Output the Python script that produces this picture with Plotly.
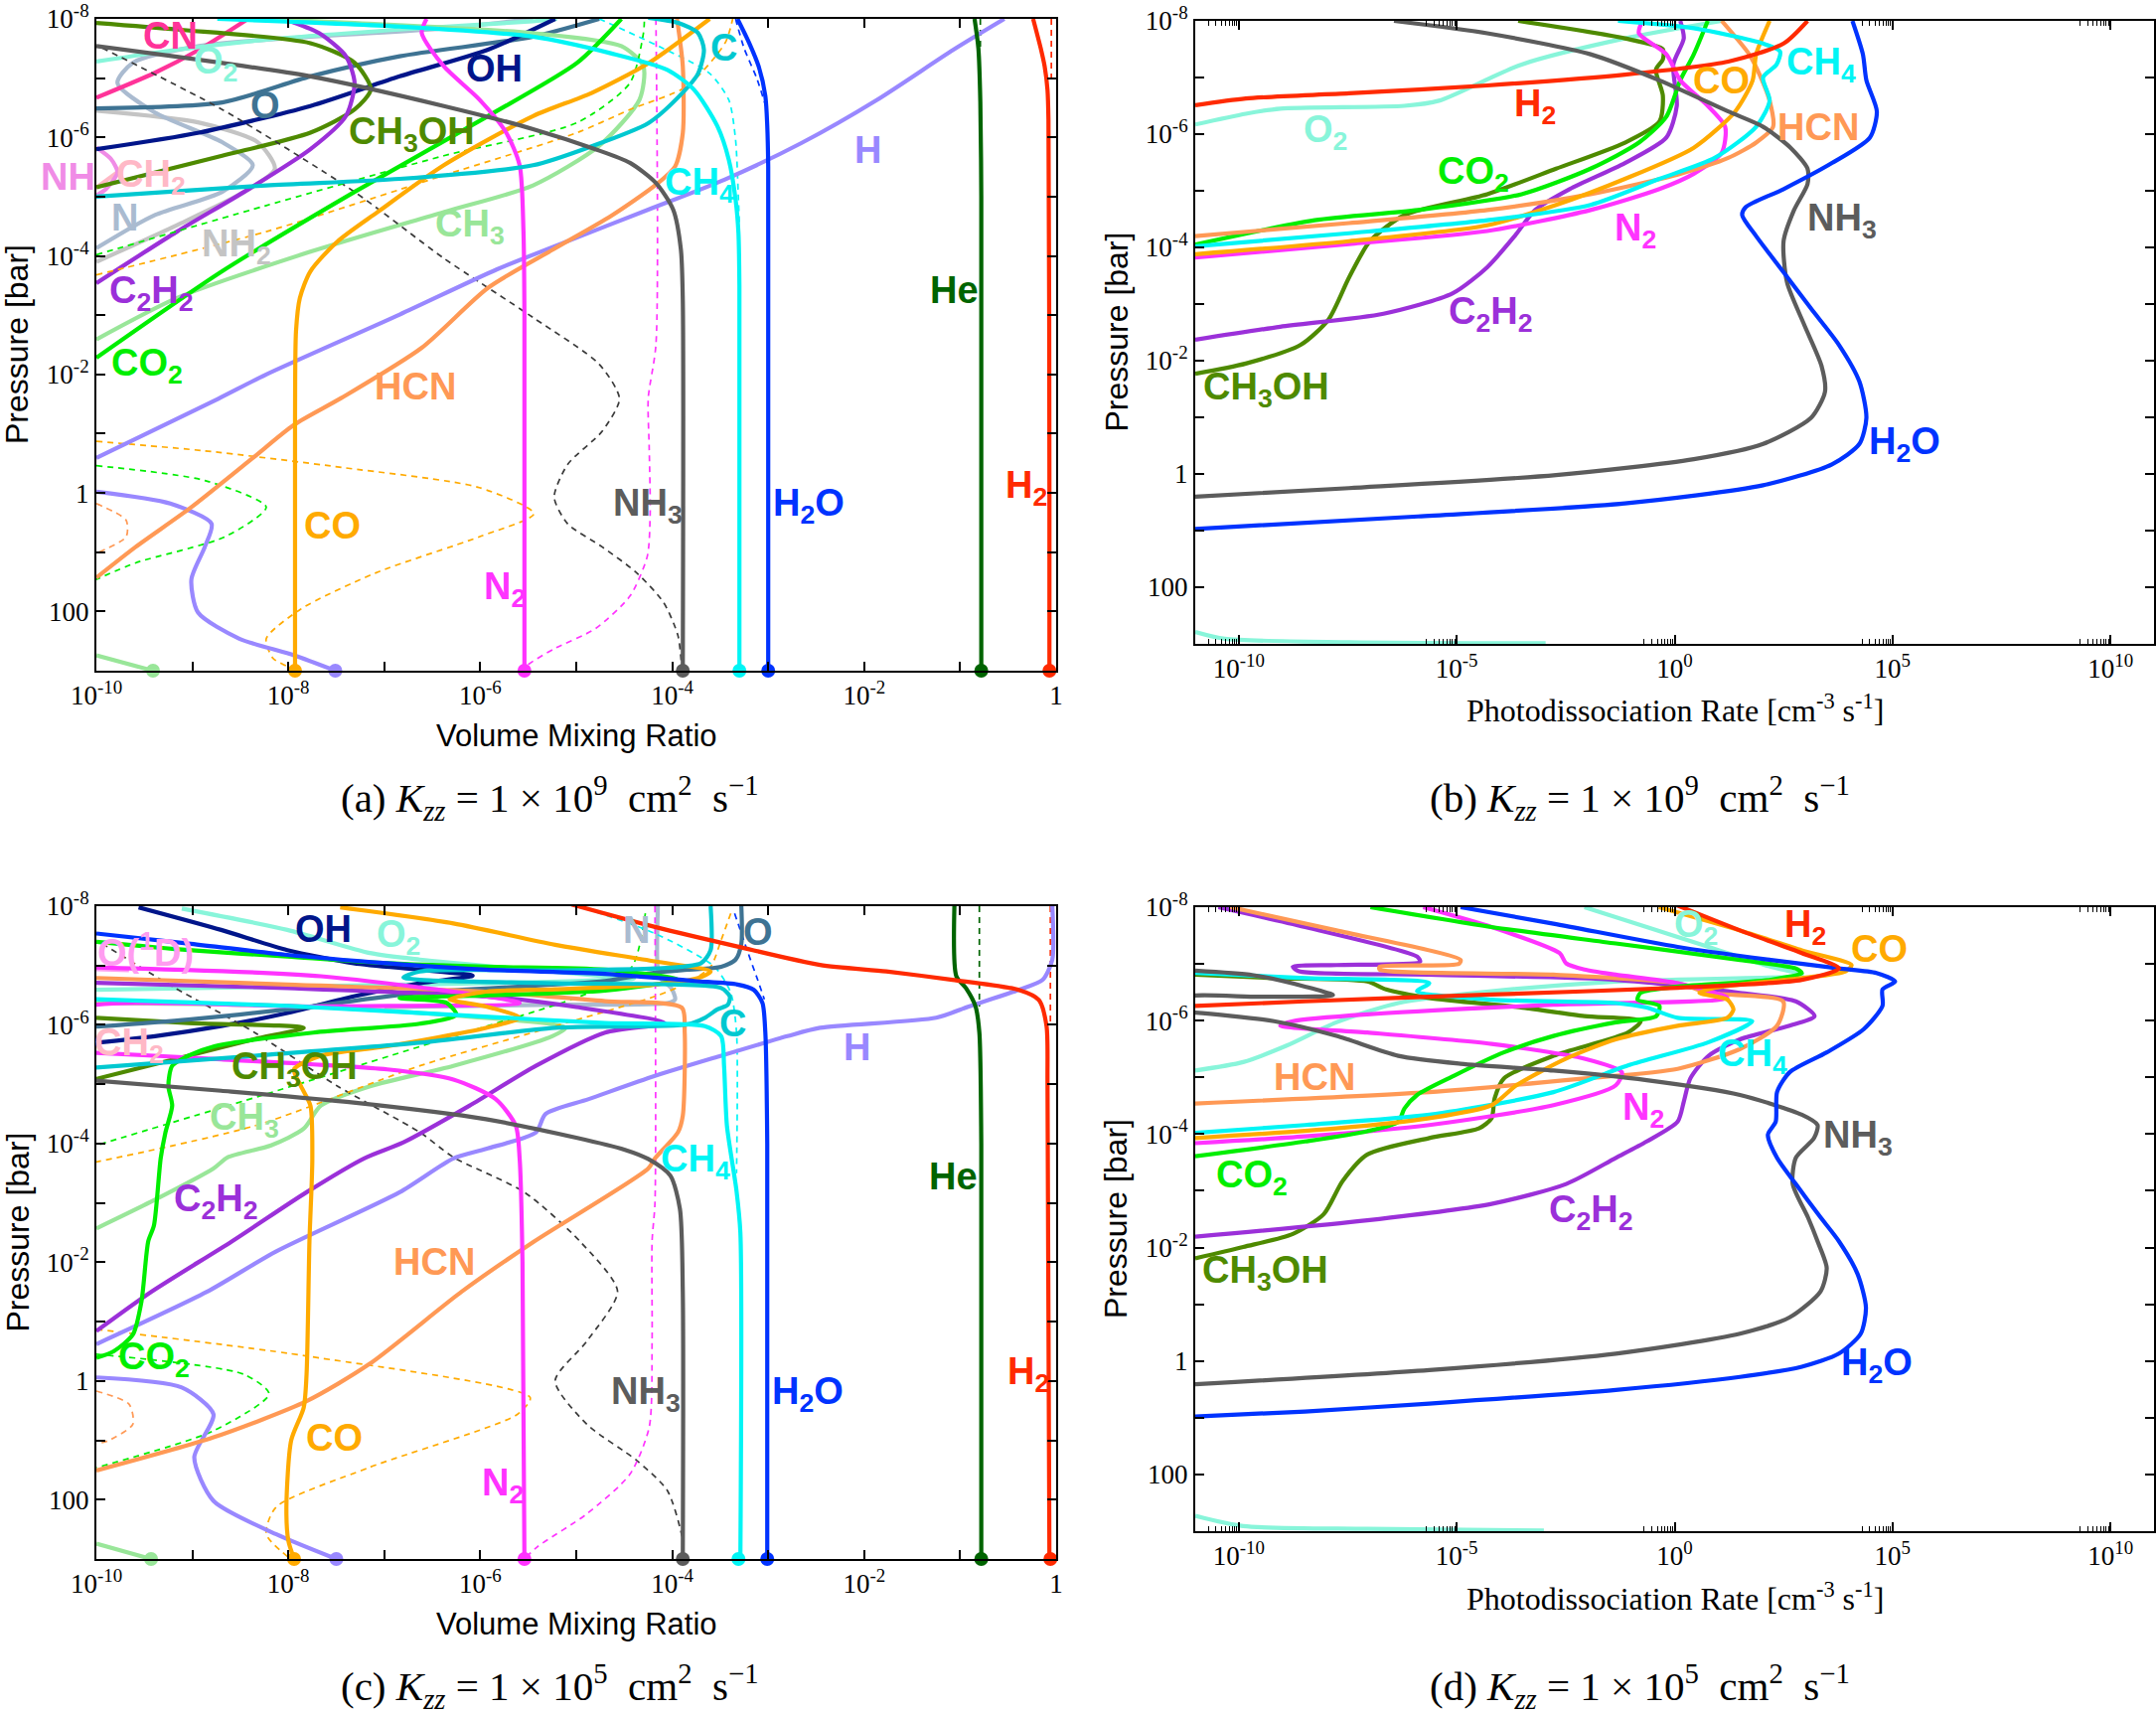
import plotly.graph_objects as go

# ------------------------------------------------------------------
# Data: each curve is a list of (log10 value, log10 pressure [bar])
# ------------------------------------------------------------------
# Panel (a) : volume mixing ratio, Kzz = 1e9
A_H2 = [(-0.24,-8),(-0.16,-7.5),(-0.12,-7.2),(-0.09,-6.8),(-0.08,-6.3),(-0.07,0),(-0.07,3)]
A_H2_D = [(-0.05,-8),(-0.05,-6.9)]
A_HE = [(-0.85,-8),(-0.81,-7.5),(-0.79,-6.6),(-0.78,-5),(-0.78,3)]
A_HE_D = [(-0.79,-8),(-0.79,-7.5)]
A_H2O = [(-3.32,-8),(-3.2,-7.6),(-3.1,-7.2),(-3.03,-6.7),(-3.01,-6.2),(-3.0,-5.5),(-3.0,3)]
A_H2O_D = [(-3.34,-8),(-3.25,-7.5),(-3.12,-7.0),(-3.02,-6.5)]
A_CH4 = [(-8.74,-8),(-6.84,-7.87),(-5.45,-7.70),(-4.64,-7.42),(-4.05,-7.14),(-3.77,-6.80),(-3.53,-6.19),
         (-3.41,-5.62),(-3.34,-4.95),(-3.31,-4.39),(-3.30,-3.5),(-3.30,3)]
A_CH4_D = [(-4.76,-8),(-4.13,-7.53),(-3.61,-7.08),(-3.41,-6.63),(-3.34,-5.96),(-3.31,-4.95),(-3.30,-4.5)]
A_C = [(-10.2,-4.99),(-10,-5.0),(-8.23,-5.19),(-6.84,-5.30),(-5.45,-5.53),(-4.84,-5.85),(-4.25,-6.24),
       (-3.93,-6.69),(-3.73,-7.08),(-3.67,-7.48),(-3.73,-7.76),(-3.93,-7.93),(-4.25,-8.02)]
A_NH3 = [(-10,-7.54),(-7.77,-7.03),(-6.38,-6.53),(-5.45,-6.14),(-4.8,-5.8),(-4.44,-5.57),(-4.17,-5.23),
         (-3.99,-4.78),(-3.91,-4.11),(-3.89,-3.26),(-3.89,3)]
A_NH3_D = [(-9.94,-7.51),(-8.69,-6.47),(-7.31,-5.08),(-6.38,-3.96),(-5.45,-2.96),(-4.76,-2.17),(-4.55,-1.59),
           (-4.73,-1.04),(-5.09,-0.48),(-5.23,0.07),(-5.09,0.52),(-4.73,0.91),(-4.37,1.35),(-4.09,1.85),
           (-3.94,2.41),(-3.9,3.0)]
A_N2 = [(-6.56,-8),(-6.61,-7.76),(-6.38,-7.2),(-6.01,-6.64),(-5.73,-6.08),(-5.59,-5.53),(-5.55,-4.41),
        (-5.54,-3),(-5.54,3)]
A_N2_D = [(-4.17,-8),(-4.17,-2.5),(-4.25,-1.6),(-4.24,-0.76),(-4.23,0.35),(-4.26,1.07),(-4.44,1.74),
          (-4.8,2.29),(-5.23,2.63),(-5.51,2.91),(-5.54,3.0)]
A_CO = [(-3.61,-8),(-4.25,-7.25),(-4.84,-6.75),(-5.45,-6.36),(-6.38,-5.53),(-7.07,-4.74),(-7.49,-4.24),
        (-7.77,-3.74),(-7.88,-3.29),(-7.92,-2.73),(-7.93,-1.28),(-7.93,3)]
A_CO_D1 = [(-10,-3.68),(-8.23,-4.41),(-6.38,-5.36),(-4.99,-6.08),(-4.44,-6.47),(-3.85,-6.86),(-3.45,-7.59),(-3.37,-8)]
A_CO_D2 = [(-10,-0.87),(-8.87,-0.71),(-7.44,-0.43),(-6.01,-0.09),(-5.44,0.35),(-6.01,0.74),(-7.09,1.35),
           (-7.87,1.96),(-8.23,2.46),(-8.16,2.79),(-8.01,2.93),(-7.95,3.0)]
A_CO2 = [(-10,-2.28),(-8.69,-3.74),(-7.31,-5.08),(-5.92,-6.36),(-4.99,-7.26),(-4.53,-8)]
A_CO2_D1 = [(-10,-4.02),(-8.23,-4.85),(-6.38,-5.69),(-4.99,-6.25),(-4.44,-6.92),(-4.30,-7.76),(-4.29,-8)]
A_CO2_D2 = [(-10,-0.46),(-8.87,-0.21),(-8.23,0.24),(-8.66,0.74),(-9.59,1.18),(-10,1.46)]
A_HCN = [(-3.95,-8),(-3.89,-7.2),(-3.89,-6.07),(-3.97,-5.51),(-4.17,-5.20),(-4.64,-4.67),(-5.24,-4.11),
         (-5.92,-3.46),(-6.61,-2.45),(-7.45,-1.6),(-7.94,-1.15),(-8.37,-0.59),(-9.01,0.24),(-9.59,0.91),(-10,1.43)]
A_HCN_D = [(-10,0.18),(-9.69,0.46),(-9.69,0.74),(-10,1.02)]
A_H = [(-0.54,-8),(-1.07,-7.48),(-1.87,-6.63),(-2.66,-5.90),(-3.45,-5.29),(-4.25,-4.78),(-5.04,-4.28),
       (-5.83,-3.77),(-6.84,-3.01),(-8.23,-2.0),(-8.73,-1.59),(-10,-0.59)]
A_H_LOW = [(-10,-0.02),(-9.23,0.18),(-8.8,0.52),(-8.87,0.91),(-9.01,1.46),(-8.94,2.02),(-8.51,2.46),
           (-7.94,2.74),(-7.51,3.0)]
A_CH3 = [(-10,-2.59),(-9.16,-3.29),(-7.77,-4.07),(-6.38,-4.74),(-5.45,-5.19),(-4.76,-5.86),(-4.34,-6.64),
         (-4.30,-7.2),(-4.53,-7.54),(-5.45,-7.76),(-7.31,-7.93),(-8.23,-8)]
A_CH3_LOW = [(-10,2.74),(-9.41,3.0)]
A_C2H2 = [(-10,-3.54),(-9.16,-4.41),(-8.46,-5.08),(-7.77,-5.80),(-7.40,-6.36),(-7.31,-6.92),(-7.40,-7.37),
          (-7.68,-7.76),(-8.05,-8)]
A_CH3OH = [(-10,-5.16),(-8.69,-5.69),(-7.77,-6.08),(-7.31,-6.47),(-7.14,-6.81),(-7.31,-7.26),(-7.77,-7.59),
           (-9.16,-7.82),(-10,-7.93)]
A_OH = [(-10,-5.80),(-8.93,-6.08),(-7.77,-6.53),(-6.84,-7.03),(-5.92,-7.48),(-5.22,-8)]
A_O = [(-10,-6.49),(-8.69,-6.59),(-7.77,-7.03),(-6.84,-7.37),(-5.45,-7.70),(-4.76,-8)]
A_O2 = [(-10,-7.28),(-9.16,-7.48),(-8.23,-7.65),(-6.84,-7.82),(-5.45,-7.96),(-5.2,-8)]
A_CN = [(-10,-6.67),(-9.39,-7.09),(-8.93,-7.48),(-8.42,-8)]
A_N = [(-10,-4.13),(-9.39,-4.69),(-8.69,-5.08),(-8.37,-5.53),(-8.69,-5.92),(-9.39,-6.42),(-9.78,-6.92),
       (-9.62,-7.26),(-8.93,-7.54),(-7.77,-7.70),(-6.38,-7.84),(-5.45,-8)]
A_NH2 = [(-10,-3.90),(-9.16,-4.52),(-8.46,-5.08),(-8.14,-5.47),(-8.32,-5.92),(-8.93,-6.25),(-10,-6.45)]
A_NH = [(-10,-5.83),(-9.85,-5.64),(-9.78,-5.41),(-9.90,-5.13),(-10,-5.02)]
A_CH2 = [(-10,-5.15),(-9.75,-5.45)]
A_DOT_KEYS = ["CH3","CO","H","N2","NH3","CH4","H2O","He","H2"]
A_DOT_X = [-9.41,-7.93,-7.51,-5.54,-3.89,-3.30,-3.0,-0.78,-0.07]

# Panel (b) : photodissociation rate, Kzz = 1e9
B_H2O = [(4.08,-8),(4.32,-7.41),(4.40,-6.95),(4.64,-6.40),(4.48,-5.94),(3.61,-5.49),(2.50,-5.03),(1.63,-4.71),
         (1.55,-4.57),(1.87,-4.20),(2.50,-3.56),(3.13,-2.92),(3.77,-2.28),(4.24,-1.63),(4.40,-0.99),(4.24,-0.53),
         (3.61,-0.17),(2.03,0.20),(-1.14,0.52),(-5.89,0.75),(-11,0.97)]
B_NH3 = [(-6.44,-8),(-4.30,-7.78),(-1.93,-7.41),(-0.35,-6.95),(1.23,-6.40),(2.03,-6.13),(2.66,-5.76),(3.05,-5.39),
         (3.05,-5.12),(2.74,-4.66),(2.50,-4.11),(2.58,-3.38),(2.97,-2.64),(3.37,-1.91),(3.45,-1.45),(3.13,-0.99),
         (2.03,-0.53),(0.44,-0.26),(-2.72,0.02),(-7.47,0.25),(-11,0.40)]
B_H2 = [(3.05,-8),(2.5,-7.6),(1.23,-7.28),(-1.14,-7.05),(-4.30,-6.86),(-7.47,-6.72),(-9.84,-6.63),(-11,-6.51)]
B_CH4 = [(-1.30,-8),(0.44,-7.87),(2.03,-7.60),(2.42,-7.46),(2.34,-7.23),(2.03,-7.00),(2.18,-6.59),(1.87,-6.13),
         (0.92,-5.58),(-0.35,-5.21),(-1.93,-4.75),(-4.30,-4.48),(-7.47,-4.25),(-11,-4.02)]
B_CO = [(2.18,-8),(1.87,-7.41),(1.79,-6.95),(1.39,-6.40),(0.44,-5.76),(-1.14,-5.21),(-2.72,-4.75),(-4.30,-4.39),
        (-7.47,-4.11),(-11,-3.88)]
B_HCN = [(1.08,-8),(1.71,-7.41),(1.95,-7.05),(2.18,-6.59),(2.26,-6.13),(1.87,-5.85),(1.23,-5.58),(0.13,-5.30),
         (-1.93,-4.94),(-4.30,-4.66),(-7.47,-4.43),(-11,-4.20)]
B_N2 = [(-0.74,-8),(-0.82,-7.78),(-0.19,-7.41),(0.13,-6.95),(0.76,-6.50),(1.16,-6.13),(1.08,-5.67),(0.44,-5.30),
        (-0.35,-5.03),(-1.93,-4.66),(-4.30,-4.29),(-7.47,-4.06),(-11,-3.82)]
B_C2H2 = [(0.13,-8),(0.21,-7.69),(-0.03,-7.23),(0.05,-6.50),(-0.19,-5.94),(-1.14,-5.49),(-2.41,-5.03),(-3.20,-4.66),
          (-3.67,-4.20),(-4.30,-3.65),(-5.09,-3.19),(-6.68,-2.83),(-9.05,-2.60),(-11,-2.37)]
B_CO2 = [(0.76,-8),(0.44,-7.41),(0.13,-6.95),(-0.19,-6.31),(-0.82,-5.85),(-1.93,-5.39),(-3.51,-4.94),(-5.89,-4.66),
         (-8.26,-4.48),(-11,-4.05)]
B_CH3OH = [(-3.59,-8),(-1.14,-7.69),(-0.27,-7.50),(-0.27,-7.32),(-0.43,-7.14),(-0.27,-6.68),(-0.35,-6.22),
           (-1.14,-5.85),(-2.72,-5.39),(-4.30,-4.94),(-6.20,-4.57),(-6.99,-4.11),(-7.47,-3.47),(-7.94,-2.73),
           (-8.58,-2.28),(-9.84,-1.95),(-11,-1.77)]
B_O2 = [(1.08,-8),(-1.14,-7.69),(-3.51,-7.23),(-5.41,-6.59),(-6.20,-6.50),(-9.05,-6.45),(-9.84,-6.36),(-11,-6.17)]
B_O2_LOW = [(-11,2.79),(-10.32,2.91),(-7.47,2.97),(-2.96,2.99)]

# Panel (c) : volume mixing ratio, Kzz = 1e5
C_H2 = [(-5.05,-8.03),(-4.18,-7.65),(-3.32,-7.32),(-2.46,-7.01),(-1.77,-6.90),(-1.08,-6.76),(-0.39,-6.59),
        (-0.18,-6.42),(-0.10,-5.98),(-0.09,-5),(-0.07,3)]
C_H2_D = [(-0.06,-8),(-0.06,-5.98)]
C_HE = [(-1.06,-8),(-1.04,-6.82),(-0.94,-6.62),(-0.84,-6.31),(-0.80,-5.87),(-0.78,-4),(-0.78,3)]
C_HE_D = [(-0.80,-8),(-0.80,-6.31)]
C_H2O = [(-10,-7.54),(-9.04,-7.37),(-8.01,-7.18),(-6.97,-7.04),(-5.94,-6.93),(-4.7,-6.86),(-3.77,-6.74),
         (-3.32,-6.68),(-3.15,-6.59),(-3.06,-6.37),(-3.03,-5.87),(-3.01,-4),(-3.01,3)]
C_H2O_D = [(-3.35,-7.88),(-3.22,-7.26),(-3.11,-6.76),(-3.04,-6.43)]
C_O = [(-3.28,-8),(-3.28,-7.37),(-3.34,-7.10),(-3.49,-6.98),(-3.84,-6.93),(-4.18,-6.88),(-4.7,-6.74),
       (-6.63,-6.54),(-8.01,-6.26),(-9.04,-6.09),(-10,-5.97)]
C_C = [(-3.60,-8),(-3.60,-7.26),(-3.70,-7.04),(-4.18,-6.95),(-5.22,-6.92),(-6.63,-6.90),(-6.80,-6.80),
       (-6.63,-6.76),(-5.22,-6.70),(-3.49,-6.62),(-3.40,-6.48),(-3.42,-6.34),(-3.53,-6.26),(-3.66,-6.12),
       (-3.84,-6.01),(-5.22,-5.95),(-6.63,-5.70),(-8.35,-5.48),(-10,-5.28)]
C_CH4 = [(-10.3,-6.45),(-8,-6.32),(-6.28,-6.17),(-4.7,-6.03),(-3.66,-5.98),(-3.49,-5.81),(-3.46,-5.31),
         (-3.43,-4.3),(-3.33,-3.2),(-3.29,-2.5),(-3.29,3)]
C_CH4_D = [(-4.9,-7.96),(-4.18,-7.54),(-3.56,-6.98),(-3.39,-6.54),(-3.33,-5.87),(-3.33,-3.5)]
C_NH3 = [(-10,-5.06),(-8.70,-4.89),(-7.32,-4.69),(-5.94,-4.41),(-5.0,-4.1),(-4.5,-3.9),(-4.25,-3.74),
         (-4.02,-3.46),(-3.92,-2.9),(-3.89,-1.5),(-3.89,3)]
C_NH3_D = [(-9.94,-7.37),(-9.21,-6.65),(-8.35,-5.87),(-7.49,-4.97),(-6.63,-4.19),(-6.28,-3.77),(-5.54,-3.18),
           (-4.96,-2.35),(-4.57,-1.51),(-4.89,-0.67),(-5.22,0.0),(-4.89,0.73),(-4.37,1.34),(-4.05,1.85),
           (-3.89,2.69),(-3.89,3.0)]
C_N2 = [(-10.3,-6.98),(-7.66,-6.82),(-5.59,-6.37),(-7.66,-6.31),(-10.3,-6.22),(-10.3,-5.55),(-10,-5.53),
        (-8.7,-5.42),(-6.97,-5.25),(-6.28,-5.08),(-5.84,-4.75),(-5.63,-4.3),(-5.59,-3.75),(-5.56,-2),(-5.54,3)]
C_N2_D = [(-4.18,-8),(-4.18,-3),(-4.21,-2.35),(-4.21,-0.67),(-4.24,0.78),(-4.44,1.57),(-4.89,2.24),
          (-5.41,2.8),(-5.54,3.0)]
C_CO = [(-7.46,-7.98),(-6.28,-7.71),(-5.22,-7.35),(-4.18,-7.07),(-3.60,-6.90),(-3.73,-6.79),(-4.18,-6.68),
        (-5.22,-6.6),(-5.94,-6.56),(-6.32,-6.43),(-5.94,-6.31),(-5.59,-6.12),(-5.94,-5.95),(-6.97,-5.64),
        (-7.66,-5.48),(-7.94,-5.25),(-7.87,-4.97),(-7.77,-4.64),(-7.75,-3.75),(-7.78,-2.35),(-7.81,-0.11),
        (-7.84,0.45),(-7.97,1.0),(-8.02,2.13),(-8.0,2.69),(-7.94,3.0)]
C_CO_D1 = [(-3.39,-7.88),(-3.49,-7.43),(-3.60,-6.98),(-3.84,-6.71),(-4.18,-6.48),(-5.22,-5.98),(-6.63,-5.31),
           (-8.35,-4.30),(-10,-3.69)]
C_CO_D2 = [(-10,-0.87),(-7.81,-0.42),(-5.48,0.28),(-5.61,0.56),(-7.16,1.46),(-8.13,2.13),(-8.23,2.58),(-8.0,2.97)]
C_CO2 = [(-10,-7.40),(-9.04,-7.26),(-8.01,-7.15),(-6.97,-7.04),(-5.94,-6.98),(-4.7,-6.93),(-3.94,-6.76),
         (-4.7,-6.58),(-5.9,-6.5),(-6.84,-6.45),(-6.35,-6.37),(-6.25,-6.17),(-6.63,-6.02),(-7.74,-5.87),
         (-8.77,-5.64),(-9.04,-5.48),(-9.21,-5.31),(-9.25,-4.97),(-9.21,-4.64),(-9.28,-4.19),(-9.33,-3.75),
         (-9.40,-2.62),(-9.46,-2.35),(-9.53,-1.34),(-9.62,-0.78),(-9.82,-0.50),(-10,-0.39)]
C_CO2_D1 = [(-4.28,-7.88),(-4.42,-6.98),(-4.87,-6.54),(-6.5,-5.7),(-8.3,-4.8),(-10,-3.97)]
C_CO2_D2 = [(-10,-0.45),(-8.46,-0.11),(-8.2,0.22),(-8.78,0.84),(-10,1.46)]
C_HCN = [(-10,-6.79),(-8.01,-6.68),(-5.94,-6.56),(-4.7,-6.4),(-3.90,-6.29),(-3.87,-5.87),(-3.89,-4.47),
         (-3.94,-4.19),(-4.18,-3.75),(-4.25,-3.58),(-5.44,-2.35),(-6.19,-1.51),(-7.16,-0.28),(-7.81,0.34),
         (-8.78,0.95),(-10,1.51)]
C_HCN_D = [(-10,0.17),(-9.66,0.39),(-9.62,0.73),(-9.88,1.01),(-10,1.06)]
C_C2H2 = [(-10,-6.71),(-8.01,-6.62),(-5.94,-6.48),(-5.0,-6.3),(-4.08,-6.03),(-4.7,-5.87),(-5.42,-5.31),
          (-6.11,-4.64),(-6.8,-4.02),(-7.21,-3.75),(-7.81,-3.18),(-8.59,-2.35),(-9.43,-1.5),(-10,-0.84)]
C_H = [(-0.04,-8),(-0.04,-7.10),(-0.14,-6.76),(-0.39,-6.59),(-0.91,-6.31),(-1.25,-6.12),(-2.46,-5.95),
       (-2.80,-5.81),(-3.49,-5.48),(-4.18,-5.14),(-4.87,-4.75),(-5.32,-4.5),(-5.42,-4.19),(-5.94,-3.91),
       (-6.28,-3.75),(-6.84,-3.18),(-8.13,-2.18),(-8.85,-1.5),(-10,-0.62)]
C_H_LOW = [(-10,-0.06),(-9.11,0.11),(-8.78,0.56),(-8.98,1.29),(-8.78,2.02),(-8.13,2.58),(-7.5,3.0)]
C_CH3 = [(-10,-6.37),(-8.01,-6.32),(-6.63,-6.2),(-5.11,-5.95),(-5.25,-5.81),(-6.28,-5.31),(-7.14,-4.97),
         (-7.66,-4.64),(-7.84,-4.25),(-8.18,-3.97),(-8.63,-3.77),(-8.78,-3.58),(-9.43,-3.02),(-10,-2.57)]
C_CH3_LOW = [(-10,2.74),(-9.43,3.0)]
C_CH3OH = [(-10,-6.12),(-9.04,-6.03),(-7.84,-5.95),(-8.35,-5.76),(-9.04,-5.48),(-9.73,-5.20),(-10,-5.09)]
C_OH = [(-9.56,-7.98),(-8.7,-7.6),(-8.01,-7.26),(-7.32,-7.04),(-6.63,-6.93),(-6.08,-6.83),(-6.63,-6.70),
        (-7.32,-6.48),(-8.01,-6.2),(-8.7,-5.98),(-9.39,-5.81),(-10,-5.7)]
C_O2 = [(-9.11,-7.96),(-8.01,-7.6),(-7.15,-7.21),(-6.63,-7.1),(-4.7,-6.82),(-4.4,-6.78),(-6.0,-6.70),(-10,-6.59)]
C_N = [(-4.15,-8),(-4.15,-6.93),(-4.11,-6.76),(-4.01,-6.62),(-3.97,-6.43),(-4.04,-6.37),(-5.22,-6.34),
       (-6.5,-6.31),(-7.0,-6.3)]
C_O1D = [(-10,-6.94),(-9.66,-6.92)]
C_DOT_KEYS = ["CH3","CO","H","N2","NH3","CH4","H2O","He","H2"]
C_DOT_X = [-9.43,-7.94,-7.5,-5.54,-3.89,-3.31,-3.01,-0.78,-0.06]

# Panel (d) : photodissociation rate, Kzz = 1e5
D_H2O = [(-4.91,-8),(-2.78,-7.71),(0.07,-7.30),(2.21,-7.07),(3.77,-6.92),(4.63,-6.84),(5.06,-6.69),(4.77,-6.55),
         (4.77,-6.26),(4.34,-5.85),(3.49,-5.44),(2.64,-5.09),(2.35,-4.74),(2.32,-4.22),(2.14,-3.99),(2.35,-3.58),
         (2.78,-3.12),(3.35,-2.53),(3.77,-2.11),(4.2,-1.53),(4.39,-0.94),(4.27,-0.48),(3.77,-0.13),(2.92,0.10),
         (1.50,0.28),(-1.35,0.51),(-5.63,0.75),(-8.48,0.89),(-11,0.98)]
D_NH3 = [(-11,-6.88),(-9.67,-6.80),(-8.48,-6.6),(-7.84,-6.45),(-9.5,-6.42),(-11.3,-6.4),(-11.3,-6.15),
         (-11,-6.14),(-9.19,-5.99),(-7.76,-5.73),(-6.34,-5.38),(-4.91,-5.24),(-2.78,-5.12),(-0.64,-4.95),
         (1.50,-4.69),(2.92,-4.34),(3.28,-4.16),(3.2,-3.93),(2.78,-3.58),(2.71,-3.12),(3.06,-2.53),(3.28,-2.11),
         (3.49,-1.64),(3.35,-1.23),(2.64,-0.77),(1.50,-0.48),(-1.35,-0.13),(-5.63,0.16),(-11,0.41)]
D_H2 = [(0.0,-8.05),(1.50,-7.59),(2.92,-7.19),(3.77,-6.92),(2.92,-6.72),(0.07,-6.58),(-4.2,-6.46),(-8.48,-6.34),(-11,-6.26)]
D_CO = [(-0.36,-8),(1.5,-7.59),(2.92,-7.24),(4.06,-6.98),(3.92,-6.87),(2.92,-6.75),(0.93,-6.58),(0.57,-6.49),
        (1.21,-6.37),(1.35,-6.20),(1.21,-6.05),(0.07,-5.91),(-1.35,-5.67),(-2.49,-5.33),(-3.63,-4.86),
        (-4.20,-4.51),(-5.63,-4.28),(-7.76,-4.10),(-11,-3.93)]
D_CO2 = [(-6.98,-8),(-4.2,-7.65),(-1.35,-7.36),(1.5,-7.07),(2.78,-6.92),(2.92,-6.84),(2.21,-6.72),(0.07,-6.60),
         (-0.78,-6.49),(-0.85,-6.37),(-0.35,-6.26),(-0.42,-6.08),(-1.35,-5.97),(-2.78,-5.73),(-3.92,-5.44),
         (-5.06,-5.03),(-5.91,-4.69),(-6.2,-4.45),(-6.34,-4.22),(-7.05,-4.05),(-8.48,-3.87),(-11,-3.61)]
D_CH3OH = [(-11,-6.81),(-9.19,-6.75),(-7.05,-6.69),(-6.62,-6.55),(-5.63,-6.40),(-3.49,-6.23),(-2.07,-6.08),
           (-0.78,-5.99),(-1.07,-5.79),(-2.78,-5.38),(-3.92,-4.98),(-4.13,-4.63),(-4.2,-4.28),(-4.49,-4.10),
           (-5.63,-3.93),(-7.05,-3.64),(-7.62,-3.17),(-8.05,-2.59),(-8.76,-2.24),(-9.9,-2.01),(-11,-1.81)]
D_C2H2 = [(-10.47,-8),(-8.48,-7.65),(-5.91,-7.13),(-5.84,-7.04),(-7.76,-6.98),(-8.76,-6.95),(-8.62,-6.87),
          (-5.63,-6.81),(-1.35,-6.72),(1.50,-6.49),(2.78,-6.34),(3.21,-6.08),(2.64,-5.91),(1.5,-5.67),(0.78,-5.38),
          (0.36,-4.98),(0.21,-4.57),(0.07,-4.22),(-0.64,-3.87),(-1.35,-3.58),(-2.49,-3.12),(-4.2,-2.77),
          (-7.05,-2.48),(-11,-2.19)]
D_HCN = [(-10.19,-8),(-7.76,-7.59),(-4.91,-7.07),(-4.95,-7.0),(-6.77,-6.95),(-6.77,-6.90),(-2.78,-6.81),
         (0.07,-6.66),(0.78,-6.49),(2.49,-6.34),(2.35,-5.91),(1.5,-5.50),(0.07,-5.15),(-2.07,-4.98),(-5.63,-4.74),
         (-11,-4.54)]
D_N2 = [(-5.77,-8),(-4.2,-7.65),(-2.64,-7.19),(-2.49,-7.01),(-2.07,-6.90),(-1.35,-6.81),(0.07,-6.66),(1.21,-6.40),
        (-2.78,-6.28),(-7.05,-6.11),(-8.76,-5.99),(-9.05,-5.91),(-7.05,-5.79),(-4.2,-5.59),(-2.07,-5.33),
        (-1.21,-5.09),(-1.35,-4.86),(-2.78,-4.51),(-5.63,-4.16),(-8.48,-3.96),(-11,-3.84)]
D_CH4 = [(-11,-6.84),(-8.48,-6.75),(-5.63,-6.66),(-5.91,-6.52),(-4.2,-6.37),(-1.35,-6.31),(-0.64,-6.23),
         (0.07,-6.05),(1.78,-5.99),(0.78,-5.62),(-1.07,-5.21),(-2.78,-4.74),(-5.63,-4.34),(-8.48,-4.16),(-11,-4.02)]
D_O2 = [(-2.07,-8),(-0.64,-7.65),(0.78,-7.30),(2.21,-6.95),(2.92,-6.81),(-1.35,-6.69),(-4.2,-6.52),(-6.34,-6.31),
        (-7.76,-5.97),(-8.9,-5.56),(-9.9,-5.27),(-11,-5.12)]
D_O2_LOW = [(-11,2.73),(-9.9,2.91),(-7.05,2.96),(-3.0,2.99)]

# Species labels: (text, key, log10 x, log10 p)
A_LABELS = [("CN","CN",-9.23,-7.72),("O<sub>2</sub>","O2",-8.76,-7.24),("O","O",-8.24,-6.54),
            ("OH","OH",-5.85,-7.17),("CH<sub>3</sub>OH","CH3OH",-6.71,-6.06),("C","C",-3.46,-7.51),
            ("H","H",-1.96,-5.78),("NH","NH",-10.29,-5.34),("CH<sub>2</sub>","CH2",-9.43,-5.34),
            ("N","N",-9.71,-4.64),("NH<sub>2</sub>","NH2",-8.54,-4.16),("CH<sub>3</sub>","CH3",-6.11,-4.5),
            ("CH<sub>4</sub>","CH4",-3.72,-5.2),("C<sub>2</sub>H<sub>2</sub>","C2H2",-9.43,-3.37),
            ("He","He",-1.06,-3.42),("CO<sub>2</sub>","CO2",-9.47,-2.14),("HCN","HCN",-6.68,-1.8),
            ("NH<sub>3</sub>","NH3",-4.25,0.22),("H<sub>2</sub>O","H2O",-2.58,0.22),("H<sub>2</sub>","H2",-0.31,-0.08),
            ("CO","CO",-7.54,0.56),("N<sub>2</sub>","N2",-5.75,1.63)]
B_LABELS = [("O<sub>2</sub>","O2",-8.02,-6.04),("H<sub>2</sub>","H2",-3.2,-6.5),("CO<sub>2</sub>","CO2",-4.62,-5.3),
            ("CH<sub>3</sub>OH","CH3OH",-9.37,-1.5),("C<sub>2</sub>H<sub>2</sub>","C2H2",-4.22,-2.83),
            ("N<sub>2</sub>","N2",-0.9,-4.3),("NH<sub>3</sub>","NH3",3.85,-4.48),("CO","CO",1.08,-6.95),
            ("CH<sub>4</sub>","CH4",3.37,-7.23),("HCN","HCN",3.29,-6.13),("H<sub>2</sub>O","H2O",5.27,-0.53)]
C_LABELS = [("OH","OH",-7.63,-7.62),("O<sub>2</sub>","O2",-6.85,-7.48),("N","N",-4.37,-7.6),("O","O",-3.11,-7.57),
            ("O(<sup>1</sup>D)","O1D",-9.49,-7.26),("CH<sub>2</sub>","CH2",-9.66,-5.66),
            ("CH<sub>3</sub>OH","CH3OH",-7.94,-5.26),("CH<sub>3</sub>","CH3",-8.46,-4.4),("C","C",-3.37,-6.03),
            ("H","H",-2.08,-5.62),("CH<sub>4</sub>","CH4",-3.76,-3.69),("He","He",-1.07,-3.44),
            ("C<sub>2</sub>H<sub>2</sub>","C2H2",-8.75,-3.02),("HCN","HCN",-6.48,-2.01),
            ("CO<sub>2</sub>","CO2",-9.40,-0.36),("CO","CO",-7.52,0.95),("N<sub>2</sub>","N2",-5.77,1.76),
            ("NH<sub>3</sub>","NH3",-4.28,0.22),("H<sub>2</sub>O","H2O",-2.59,0.22),("H<sub>2</sub>","H2",-0.29,-0.11)]
D_LABELS = [("O<sub>2</sub>","O2",0.5,-7.65),("H<sub>2</sub>","H2",2.99,-7.65),("CO","CO",4.7,-7.27),
            ("HCN","HCN",-8.26,-5.0),("CH<sub>4</sub>","CH4",1.78,-5.38),("N<sub>2</sub>","N2",-0.71,-4.42),
            ("NH<sub>3</sub>","NH3",4.2,-3.93),("CO<sub>2</sub>","CO2",-9.69,-3.23),
            ("C<sub>2</sub>H<sub>2</sub>","C2H2",-1.92,-2.62),("CH<sub>3</sub>OH","CH3OH",-9.4,-1.55),
            ("H<sub>2</sub>O","H2O",4.63,0.08)]

CAPTION_K = ["9", "9", "5", "5"]

# ------------------------------------------------------------------
# Styles
# ------------------------------------------------------------------
COL = {'H2':'#FF2A00','He':'#006400','H2O':'#0033FF','CH4':'#00F5F5','C':'#00C8D0','NH3':'#5C5C5C',
       'N2':'#FF33FF','CO':'#FFAA00','HCN':'#FF9955','H':'#9988FF','CH3':'#99E699','C2H2':'#9B30D9',
       'CO2':'#00EE00','CH3OH':'#4E8A00','OH':'#00158A','O':'#3E7393','O2':'#88F5DA','CN':'#FF3399',
       'N':'#AABBD0','NH2':'#C4C4C4','NH':'#F08CE6','CH2':'#FFB8C6','O1D':'#FF9CF0'}
DASHCOL = dict(COL, NH3='#3A3A3A')

W, H = 2170, 1725
# plot-area pixel boxes (left, right, top, bottom)
PX = {'a': (97, 1063, 19, 675), 'b': (1203, 2168, 21, 648),
      'c': (97, 1063, 912, 1569), 'd': (1203, 2168, 913, 1541)}
AX = {'a': ('x', 'y', ''), 'b': ('x2', 'y2', '2'), 'c': ('x3', 'y3', '3'), 'd': ('x4', 'y4', '4')}
XR = {'a': (-10, 0), 'b': (-11, 11), 'c': (-10, 0), 'd': (-11, 11)}
XTITLE_Y = {'a': 740, 'b': 713, 'c': 1634, 'd': 1607}
CAPTION_Y = {'a': 803, 'b': 803, 'c': 1697, 'd': 1697}

fig = go.Figure()


def add(panel, pts, key, dashed=False):
    xa, ya, _ = AX[panel]
    fig.add_trace(go.Scatter(
        x=[10 ** p[0] for p in pts], y=[10 ** p[1] for p in pts], mode='lines',
        xaxis=xa, yaxis=ya, showlegend=False, hoverinfo='skip',
        line=dict(color=(DASHCOL if dashed else COL)[key], width=1.7 if dashed else 4.2,
                  dash='6px,5px' if dashed else 'solid', shape='spline', smoothing=0.7)))


PANEL_A = [('CH2',A_CH2,0),('NH',A_NH,0),('NH2',A_NH2,0),('N',A_N,0),('CN',A_CN,0),('O2',A_O2,0),('O',A_O,0),
           ('OH',A_OH,0),('CH3OH',A_CH3OH,0),('C2H2',A_C2H2,0),('CH3',A_CH3,0),('CH3',A_CH3_LOW,0),
           ('NH3',A_NH3_D,1),('N2',A_N2_D,1),('CO',A_CO_D1,1),('CO',A_CO_D2,1),('CO2',A_CO2_D1,1),
           ('CO2',A_CO2_D2,1),('HCN',A_HCN_D,1),('CH4',A_CH4_D,1),('H2O',A_H2O_D,1),('He',A_HE_D,1),
           ('H2',A_H2_D,1),('H',A_H,0),('H',A_H_LOW,0),('HCN',A_HCN,0),('CO2',A_CO2,0),('CO',A_CO,0),
           ('N2',A_N2,0),('C',A_C,0),('NH3',A_NH3,0),('CH4',A_CH4,0),('H2O',A_H2O,0),('He',A_HE,0),('H2',A_H2,0)]
PANEL_B = [('O2',B_O2,0),('O2',B_O2_LOW,0),('CH3OH',B_CH3OH,0),('C2H2',B_C2H2,0),('CO2',B_CO2,0),('N2',B_N2,0),
           ('HCN',B_HCN,0),('CO',B_CO,0),('CH4',B_CH4,0),('H2',B_H2,0),('NH3',B_NH3,0),('H2O',B_H2O,0)]
PANEL_C = [('O1D',C_O1D,0),('N',C_N,0),('O2',C_O2,0),('OH',C_OH,0),('CH3OH',C_CH3OH,0),('CH3',C_CH3,0),
           ('CH3',C_CH3_LOW,0),('NH3',C_NH3_D,1),('N2',C_N2_D,1),('CO',C_CO_D1,1),('CO',C_CO_D2,1),
           ('CO2',C_CO2_D1,1),('CO2',C_CO2_D2,1),('HCN',C_HCN_D,1),('CH4',C_CH4_D,1),('H2O',C_H2O_D,1),
           ('He',C_HE_D,1),('H2',C_H2_D,1),('O',C_O,0),('H',C_H,0),('H',C_H_LOW,0),('C2H2',C_C2H2,0),
           ('HCN',C_HCN,0),('N2',C_N2,0),('CO2',C_CO2,0),('CO',C_CO,0),('C',C_C,0),('NH3',C_NH3,0),
           ('CH4',C_CH4,0),('H2O',C_H2O,0),('He',C_HE,0),('H2',C_H2,0)]
PANEL_D = [('O2',D_O2,0),('O2',D_O2_LOW,0),('CH3OH',D_CH3OH,0),('C2H2',D_C2H2,0),('HCN',D_HCN,0),
           ('N2',D_N2,0),('CO2',D_CO2,0),('CH4',D_CH4,0),('CO',D_CO,0),('NH3',D_NH3,0),('H2O',D_H2O,0),
           ('H2',D_H2,0)]

for panel, curves in (('a', PANEL_A), ('b', PANEL_B), ('c', PANEL_C), ('d', PANEL_D)):
    for key, pts, d in curves:
        add(panel, pts, key, bool(d))

for panel, keys, xs in (('a', A_DOT_KEYS, A_DOT_X), ('c', C_DOT_KEYS, C_DOT_X)):
    xa, ya, _ = AX[panel]
    fig.add_trace(go.Scatter(x=[10 ** v for v in xs], y=[1000.0] * len(xs), mode='markers',
                             xaxis=xa, yaxis=ya, showlegend=False, hoverinfo='skip', cliponaxis=False,
                             marker=dict(size=14, color=[COL[k] for k in keys], line=dict(width=0))))

# ------------------------------------------------------------------
# Axes
# ------------------------------------------------------------------
SERIF = "Liberation Serif, Times New Roman, serif"
SANS = "Liberation Sans, Arial, Helvetica, sans-serif"


def exp_label(k):
    if k == 0:
        return '1'
    if k == 2:
        return '100'
    return '10<sup>%d</sup>' % k


y_major = [k for k in range(-8, 4) if k % 2 == 0]
y_vals = [10.0 ** k for k in y_major]
y_text = [exp_label(k) for k in y_major]
y_minor = [10.0 ** k for k in range(-8, 4) if k % 2 != 0]
vmr_major = [-10, -8, -6, -4, -2, 0]
vmr_vals = [10.0 ** k for k in vmr_major]
vmr_text = ['1' if k == 0 else '10<sup>%d</sup>' % k for k in vmr_major]
vmr_minor = [10.0 ** k for k in (-9, -7, -5, -3, -1)]
pr_major = [-10, -5, 0, 5, 10]
pr_vals = [10.0 ** k for k in pr_major]
pr_text = ['10<sup>%d</sup>' % k for k in pr_major]
pr_minor = [m * 10.0 ** (k - 1) for k in pr_major for m in range(2, 10)]

common = dict(type='log', showgrid=False, zeroline=False, showline=True, linecolor='black', linewidth=2,
              mirror='allticks', ticks='inside', tickcolor='black', tickwidth=1.5, ticklen=9,
              tickfont=dict(family=SERIF, size=27, color='black'), automargin=False, tickmode='array')


def minor(vals, length, width=1.5):
    return dict(tickmode='array', tickvals=vals, ticks='inside', ticklen=length, tickcolor='black',
                tickwidth=width)


layout = {}
for panel in 'abcd':
    x0, x1, y0, y1 = PX[panel]
    xa, ya, s = AX[panel]
    xd = dict(common, domain=[x0 / W, x1 / W], range=list(XR[panel]), anchor=ya)
    if panel in 'ac':
        xd.update(tickvals=vmr_vals, ticktext=vmr_text, minor=minor(vmr_minor, 9))
    else:
        xd.update(tickvals=pr_vals, ticktext=pr_text, minor=minor(pr_minor, 5, 1))
    yd = dict(common, domain=[1 - y1 / H, 1 - y0 / H], range=[3, -8], anchor=xa,
              tickvals=y_vals, ticktext=y_text, minor=minor(y_minor, 9))
    layout['xaxis' + s] = xd
    layout['yaxis' + s] = yd

ann = []
for panel, labels in (('a', A_LABELS), ('b', B_LABELS), ('c', C_LABELS), ('d', D_LABELS)):
    xa, ya, _ = AX[panel]
    lo, hi = XR[panel]
    x0, x1, _, _ = PX[panel]
    ppd = (x1 - x0) / (hi - lo)
    for text, key, lx, lp in labels:
        shift = 0
        if lx < lo + 0.05:
            shift = (lx - (lo + 0.05)) * ppd
            lx = lo + 0.05
        ann.append(dict(text='<b>%s</b>' % text, x=lx, y=lp, xref=xa, yref=ya, showarrow=False,
                        xanchor='center', yanchor='middle', xshift=shift,
                        font=dict(family=SANS, size=38, color=COL[key])))

for panel in 'abcd':
    x0, x1, y0, y1 = PX[panel]
    ann.append(dict(text='Pressure [bar]', x=(x0 - 80) / W, y=1 - (y0 + y1) / 2 / H, xref='paper', yref='paper',
                    showarrow=False, textangle=-90, xanchor='center', yanchor='middle',
                    font=dict(family=SANS, size=32, color='black')))
    if panel in 'ac':
        ann.append(dict(text='Volume Mixing Ratio', x=(x0 + x1) / 2 / W, y=1 - XTITLE_Y[panel] / H,
                        xref='paper', yref='paper', showarrow=False, xanchor='center', yanchor='middle',
                        font=dict(family=SANS, size=31, color='black')))
    else:
        ann.append(dict(text='Photodissociation Rate [cm<sup>-3</sup> s<sup>-1</sup>]', x=(x0 + x1) / 2 / W,
                        y=1 - XTITLE_Y[panel] / H, xref='paper', yref='paper', showarrow=False,
                        xanchor='center', yanchor='middle', font=dict(family=SERIF, size=32, color='black')))
    k = CAPTION_K['abcd'.index(panel)]
    cap = ('(%s) <i>K<sub>zz</sub></i> = 1 × 10<sup>%s</sup>&nbsp; cm<sup>2</sup>&nbsp; s<sup>−1</sup>'
           % (panel, k))
    cx = 553 if panel in 'ac' else 1650
    ann.append(dict(text=cap, x=cx / W, y=1 - CAPTION_Y[panel] / H, xref='paper', yref='paper', showarrow=False,
                    xanchor='center', yanchor='middle', font=dict(family=SERIF, size=41, color='black')))

fig.update_layout(width=W, height=H, margin=dict(l=0, r=0, t=0, b=0), paper_bgcolor='white',
                  plot_bgcolor='white', showlegend=False, annotations=ann, **layout)

fig.write_html("out.html", config={'displayModeBar': False},
               post_script="document.body.style.margin='0';document.body.style.overflow='hidden';")
